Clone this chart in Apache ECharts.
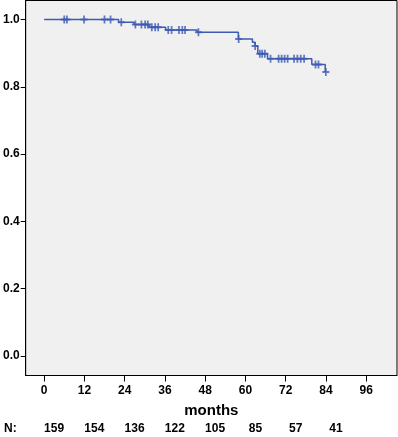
<!DOCTYPE html>
<html>
<head>
<meta charset="utf-8">
<script src="https://cdn.jsdelivr.net/npm/echarts@6/dist/echarts.min.js"></script>
<style>
html,body{margin:0;padding:0;background:#fff;}
#main{width:398px;height:437px;}
</style>
</head>
<body>
<div id="main"></div>
<script>
// Kaplan-Meier steps (time in months, survival after the step)
var stepTimes = [0, 22.2, 26.8, 31.3, 36.2, 45.6, 57.9, 62.1, 62.9, 63.7, 66.6, 79.8, 83.8, 84];
var stepSurv  = [1.0, 0.992, 0.985, 0.977, 0.969, 0.962, 0.942, 0.932, 0.921, 0.898, 0.883, 0.866, 0.844, 0.844];

// censored observations
var censorTimes = [6.0, 6.8, 11.9, 18.0, 19.8, 23.0, 27.2, 29.0, 30.1, 30.9, 32.1, 33.1, 34.0,
    37.0, 38.0, 40.2, 41.2, 42.0, 46.0, 58.0, 62.9, 64.3, 65.0, 65.8, 67.5, 69.9, 70.8,
    71.7, 72.6, 74.5, 75.5, 76.5, 77.5, 80.9, 81.8, 84.0];

var xTicks = [0, 12, 24, 36, 48, 60, 72, 84, 96];
var yTicks = [0, 0.2, 0.4, 0.6, 0.8, 1.0];

// numbers at risk
var riskMonths = [0, 12, 24, 36, 48, 60, 72, 84];
var atRisk = [159, 154, 136, 122, 105, 85, 57, 41];

var lineColor = '#3d5ab5';
var font = 'Liberation Sans';

function survivalAt(t) {
    var s = stepSurv[0];
    for (var i = 0; i < stepTimes.length; i++) {
        if (stepTimes[i] <= t) s = stepSurv[i];
    }
    return s;
}

var curve = stepTimes.map(function (t, i) { return [t, stepSurv[i]]; });
var censored = censorTimes.map(function (t) { return [t, survivalAt(t)]; });

var chart = echarts.init(document.getElementById('main'));

var option = {
    animation: false,
    backgroundColor: '#fff',
    grid: {
        left: 22, right: 1, top: 0.5, bottom: 61.5,
        show: true,
        backgroundColor: '#f0f0f0',
        borderColor: '#000',
        borderWidth: 1
    },
    xAxis: [{
        type: 'value',
        min: -5.5, max: 105.2,
        splitLine: {show: false},
        axisLine: {show: true, onZero: false, lineStyle: {color: '#000', width: 1}},
        axisTick: {show: true, length: 6, lineStyle: {color: '#000'}, customValues: xTicks},
        axisLabel: {
            customValues: xTicks,
            margin: 9,
            color: '#000',
            fontFamily: font,
            fontWeight: 'bold',
            fontSize: 12
        },
        name: 'months',
        nameLocation: 'middle',
        nameGap: 28,
        nameTextStyle: {color: '#000', fontFamily: font, fontWeight: 'bold', fontSize: 15}
    }, {
        // numbers at risk row
        type: 'value',
        position: 'bottom',
        offset: 47,
        min: -5.5, max: 105.2,
        splitLine: {show: false},
        axisLine: {show: false, onZero: false},
        axisTick: {show: false},
        axisLabel: {
            customValues: riskMonths,
            formatter: function (v) {
                var i = riskMonths.indexOf(v);
                return i >= 0 ? String(atRisk[i]) : '';
            },
            margin: 0,
            padding: [0, 0, 0, 20],
            color: '#000',
            fontFamily: font,
            fontWeight: 'bold',
            fontSize: 12
        }
    }],
    yAxis: {
        type: 'value',
        min: -0.0579, max: 1.0564,
        splitLine: {show: false},
        axisLine: {show: true, onZero: false, lineStyle: {color: '#000', width: 1}},
        axisTick: {show: true, length: 5, lineStyle: {color: '#000'}, customValues: yTicks},
        axisLabel: {
            customValues: yTicks,
            formatter: function (v) { return v.toFixed(1); },
            margin: 6,
            color: '#000',
            fontFamily: font,
            fontWeight: 'bold',
            fontSize: 12
        }
    },
    graphic: [{
        type: 'text',
        left: 4,
        top: 423,
        style: {text: 'N:', fill: '#000', font: 'bold 12px "Liberation Sans"'}
    }],
    series: [{
        type: 'line',
        step: 'end',
        data: curve,
        symbol: 'none',
        lineStyle: {color: lineColor, width: 1.5}
    }, {
        type: 'scatter',
        data: censored,
        symbol: 'path://M3,0H5V3H8V5H5V8H3V5H0V3H3Z',
        symbolSize: [7, 8],
        itemStyle: {color: lineColor}
    }]
};

chart.setOption(option);
</script>
</body>
</html>
